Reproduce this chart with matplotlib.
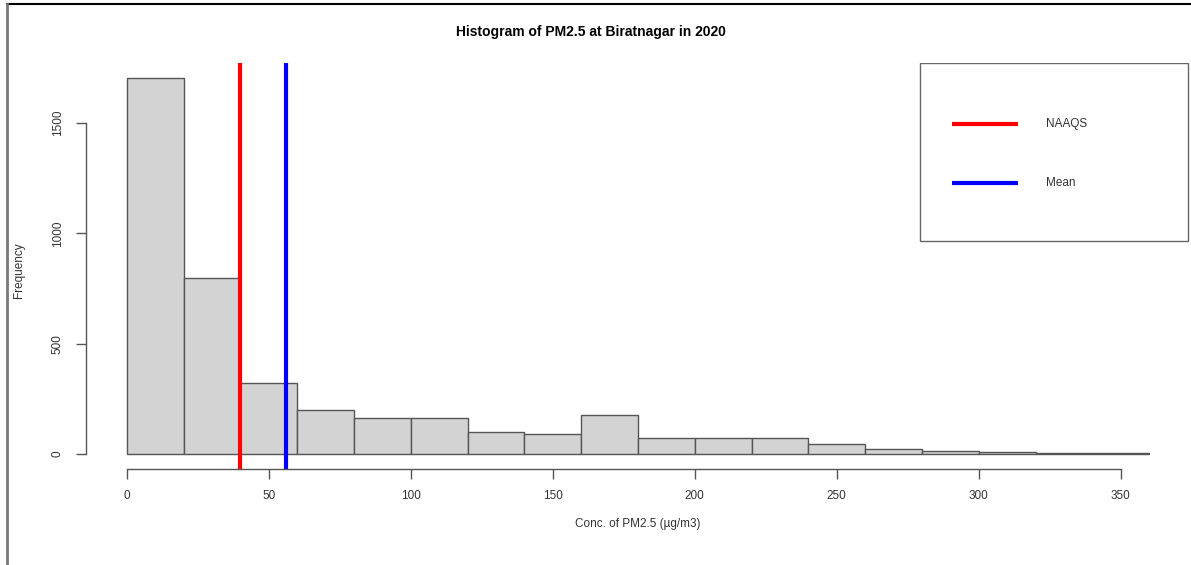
import numpy as np
import matplotlib.pyplot as plt
from matplotlib.patches import Rectangle
from matplotlib.lines import Line2D

plt.rcParams['font.family'] = ['Liberation Sans', 'DejaVu Sans']

# histogram bins (20 ug/m3 wide) and counts
bin_edges = np.arange(0, 361, 20)
counts = [1705, 800, 321, 199, 163, 163, 99, 90, 175, 72, 72, 72, 45, 22, 14, 7, 5, 3]
naaqs = 40
mean_pm = 55.9
legend_labels = ['NAAQS', 'Mean']
legend_colors = ['red', 'blue']
x_ticks = [0, 50, 100, 150, 200, 250, 300, 350]
y_ticks = [0, 500, 1000, 1500]

fig = plt.figure(figsize=(11.91, 5.65), dpi=100)
ax = fig.add_axes([86 / 1191, 96 / 565, 1104 / 1191, 406 / 565])

ax.bar(bin_edges[:-1], counts, width=20, align='edge',
       facecolor='#d3d3d3', edgecolor='#555555', linewidth=1.0)

ax.axvline(naaqs, color=legend_colors[0], lw=3)
ax.axvline(mean_pm, color=legend_colors[1], lw=3)

# R style axis limits (4% padding)
ax.set_xlim(-0.04 * 360, 360 * 1.04)
ax.set_ylim(-0.04 * max(counts), max(counts) * 1.04)

for s in ['top', 'right']:
    ax.spines[s].set_visible(False)
ax.spines['bottom'].set_bounds(0, 350)
ax.spines['left'].set_bounds(0, 1500)
for s in ['bottom', 'left']:
    ax.spines[s].set_color('#555555')
    ax.spines[s].set_linewidth(1.0)

ax.set_xticks(x_ticks)
ax.set_yticks(y_ticks)
ax.tick_params(axis='both', length=7, width=1.0, color='#555555',
               labelsize=8.5, labelcolor='#333333')
ax.tick_params(axis='x', pad=8)
ax.tick_params(axis='y', pad=9)
plt.setp(ax.get_yticklabels(), rotation=90, va='center')

ax.set_xlabel('Conc. of PM2.5 (µg/m3)', fontsize=8.5, color='#333333')
ax.set_ylabel('Frequency', fontsize=8.5, color='#333333')
ax.xaxis.set_label_coords(0.5, -0.12)
ax.yaxis.set_label_coords(-0.055, 0.49)

# legend box drawn the R way
ax.add_patch(Rectangle((0.7554, 0.5616), 0.2426, 0.4384, transform=ax.transAxes,
                       facecolor='white', edgecolor='#666666', lw=1.0, zorder=5))
for i, (lab, col) in enumerate(zip(legend_labels, legend_colors)):
    yy = 0.850 - i * 0.146
    ax.plot([0.784, 0.844], [yy, yy], color=col, lw=3, transform=ax.transAxes,
            zorder=6, solid_capstyle='butt')
    ax.text(0.870, yy, lab, transform=ax.transAxes, fontsize=8.5,
            color='#333333', va='center', ha='left', zorder=6)

fig.text(0.496, 1 - 32 / 565, 'Histogram of PM2.5 at Biratnagar in 2020',
         ha='center', va='center', fontsize=10, fontweight='bold')

# frame lines at the image edges
fig.add_artist(Line2D([7 / 1191, 1], [1 - 4 / 565, 1 - 4 / 565], color='black', lw=1.5,
                      transform=fig.transFigure))
fig.add_artist(Line2D([7 / 1191, 7 / 1191], [0, 1 - 4 / 565], color='#777777', lw=2,
                      transform=fig.transFigure))

plt.savefig('out.png', dpi=100)
